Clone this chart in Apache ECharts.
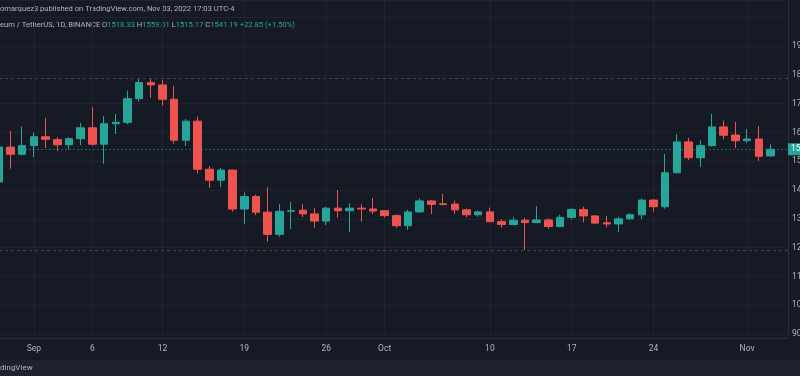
<!DOCTYPE html>
<html>
<head>
<meta charset="utf-8">
<title>ETH / USDT 1D</title>
<script src="https://cdn.jsdelivr.net/npm/echarts@6/dist/echarts.min.js"></script>
<style>
  html, body { margin: 0; padding: 0; background: #161a25; }
  #chart { width: 800px; height: 376px; }
</style>
</head>
<body>
<div id="chart"></div>
<script>
// daily candles, Aug 29 - Nov 3 2022
var dates = [
  '2022-08-29', '2022-08-30', '2022-08-31',
  '2022-09-01', '2022-09-02', '2022-09-03', '2022-09-04', '2022-09-05', '2022-09-06', '2022-09-07',
  '2022-09-08', '2022-09-09', '2022-09-10', '2022-09-11', '2022-09-12', '2022-09-13', '2022-09-14',
  '2022-09-15', '2022-09-16', '2022-09-17', '2022-09-18', '2022-09-19', '2022-09-20', '2022-09-21',
  '2022-09-22', '2022-09-23', '2022-09-24', '2022-09-25', '2022-09-26', '2022-09-27', '2022-09-28',
  '2022-09-29', '2022-09-30',
  '2022-10-01', '2022-10-02', '2022-10-03', '2022-10-04', '2022-10-05', '2022-10-06', '2022-10-07',
  '2022-10-08', '2022-10-09', '2022-10-10', '2022-10-11', '2022-10-12', '2022-10-13', '2022-10-14',
  '2022-10-15', '2022-10-16', '2022-10-17', '2022-10-18', '2022-10-19', '2022-10-20', '2022-10-21',
  '2022-10-22', '2022-10-23', '2022-10-24', '2022-10-25', '2022-10-26', '2022-10-27', '2022-10-28',
  '2022-10-29', '2022-10-30', '2022-10-31',
  '2022-11-01', '2022-11-02', '2022-11-03'
];
var emptyDates = ['2022-11-04'];

var opens = [
  1428, 1549, 1524,
  1554, 1585, 1575, 1557, 1578, 1616, 1559, 1630, 1635, 1717, 1773, 1765, 1715, 1573, 1639,
  1472, 1434, 1469, 1334, 1377, 1323, 1246, 1326, 1330, 1317, 1292, 1337, 1328, 1337, 1334,
  1328, 1311, 1276, 1324, 1362, 1352, 1351, 1331, 1314, 1324, 1291, 1280, 1295, 1287, 1296,
  1273, 1305, 1332, 1310, 1286, 1282, 1300, 1314, 1365, 1342, 1460, 1567, 1512, 1554, 1619, 1591,
  1571, 1577, 1518.33
];
var closes = [
  1549, 1524, 1554,
  1585, 1576, 1557, 1578, 1616, 1559, 1630, 1635, 1717, 1773, 1765, 1715, 1573, 1639, 1472,
  1434, 1469, 1334, 1377, 1323, 1246, 1326, 1328, 1317, 1292, 1337, 1328, 1337, 1334, 1327,
  1311, 1276, 1324, 1362, 1350, 1350, 1331, 1314, 1324, 1290, 1280, 1295, 1287, 1296, 1273,
  1305, 1332, 1310, 1285, 1282, 1300, 1314, 1365, 1342, 1460, 1567, 1512, 1554, 1619, 1590, 1571,
  1577, 1517, 1541.19
];
var lows = [
  1424, 1474, 1520,
  1514, 1546, 1535, 1541, 1556, 1554, 1491, 1594, 1629, 1707, 1720, 1693, 1561, 1553, 1457,
  1408, 1410, 1325, 1282, 1313, 1220, 1238, 1264, 1306, 1269, 1278, 1304, 1253, 1290, 1316,
  1304, 1268, 1262, 1320, 1317, 1346, 1317, 1305, 1307, 1288, 1269, 1277, 1192, 1285, 1266,
  1271, 1298, 1288, 1283, 1270, 1254, 1296, 1299, 1325, 1335, 1457, 1504, 1481, 1550, 1576, 1545,
  1564, 1501, 1515.17
];
var highs = [
  1556, 1605, 1620,
  1600, 1650, 1583, 1583, 1633, 1687, 1657, 1664, 1745, 1788, 1788, 1782, 1761, 1647, 1655,
  1483, 1476, 1470, 1392, 1384, 1410, 1351, 1359, 1351, 1337, 1341, 1400, 1355, 1351, 1372,
  1330, 1315, 1331, 1371, 1365, 1387, 1363, 1335, 1328, 1339, 1298, 1307, 1303, 1344, 1302,
  1314, 1337, 1342, 1313, 1310, 1307, 1319, 1371, 1369, 1525, 1594, 1581, 1574, 1664, 1641, 1636,
  1612, 1622, 1559.01
];

// price lines across the pane
var rangeHigh = 1789;
var rangeLow = 1192;
var lastPrice = 1541.19;

var tickDates = ['2022-09-01', '2022-09-06', '2022-09-12', '2022-09-19', '2022-09-26',
                 '2022-10-01', '2022-10-10', '2022-10-17', '2022-10-24', '2022-11-01'];
var monthNames = ['Jan', 'Feb', 'Mar', 'Apr', 'May', 'Jun', 'Jul', 'Aug', 'Sep', 'Oct', 'Nov', 'Dec'];

var UP = '#26a69a', DOWN = '#ef5350', TXT = '#b2b5be';
var FONT = "'Roboto', sans-serif";

function dayLabel(v) {
  var p = v.split('-');
  if (p[2] === '01') return monthNames[+p[1] - 1];
  return String(+p[2]);
}
function isTick(i, v) { return tickDates.indexOf(v) >= 0; }

var candles = dates.map(function (d, i) {
  return [opens[i], closes[i], lows[i], highs[i]];
});

var chart = echarts.init(document.getElementById('chart'), null, { renderer: 'canvas' });

chart.setOption({
  backgroundColor: '#161a25',
  animation: false,
  grid: { left: -7, right: 12, top: 0, bottom: 42, containLabel: false, outerBoundsMode: 'none' },
  xAxis: {
    type: 'category',
    data: dates.concat(emptyDates),
    boundaryGap: true,
    offset: 4,
    axisLine: { show: true, lineStyle: { color: '#2a2e39' } },
    axisTick: { show: false, alignWithLabel: true, interval: isTick },
    axisLabel: {
      interval: isTick, formatter: dayLabel, color: TXT,
      fontSize: 8.5, fontFamily: FONT, margin: 6
    },
    splitLine: { show: true, alignWithLabel: true, interval: isTick, lineStyle: { color: '#1f2330' } }
  },
  yAxis: {
    type: 'value',
    position: 'right',
    min: 900,
    max: 2059.7,
    interval: 100,
    axisLine: { show: true, lineStyle: { color: '#2a2e39' } },
    axisTick: { show: false },
    axisLabel: {
      color: TXT, fontSize: 8.5, fontFamily: FONT, margin: 4,
      formatter: function (v) { return v > 1900 ? '' : v.toFixed(2); }
    },
    splitLine: { lineStyle: { color: '#1f2330' } }
  },
  series: [{
    type: 'candlestick',
    data: candles,
    barWidth: 8,
    itemStyle: {
      color: UP, color0: DOWN,
      borderColor: UP, borderColor0: DOWN,
      borderWidth: 1
    },
    markLine: {
      silent: true,
      symbol: 'none',
      label: { show: false },
      data: [
        { yAxis: rangeHigh, lineStyle: { color: '#434651', type: [3, 3], width: 1 } },
        { yAxis: rangeLow, lineStyle: { color: '#434651', type: [3, 3], width: 1 } },
        {
          yAxis: lastPrice,
          lineStyle: { color: 'rgba(38,166,154,0.55)', type: [2, 2], width: 1 },
          label: {
            show: true, position: 'end', distance: 0,
            formatter: lastPrice.toFixed(2),
            color: '#fff', backgroundColor: UP,
            fontSize: 8.5, fontFamily: FONT, padding: [2, 3, 1, 3]
          }
        }
      ]
    }
  }],
  graphic: [
    {
      type: 'text', left: 0, top: 5,
      style: {
        text: 'omarquez3 published on TradingView.com, Nov 03, 2022 17:03 UTC-4',
        fill: TXT, fontSize: 7.6, fontFamily: FONT
      }
    },
    {
      type: 'text', left: 0, top: 21,
      style: {
        text: '{n|eum / TetherUS, 1D, BINANCE} {n|O}{g|1518.33} {n|H}{g|1559.01} {n|L}{g|1515.17} {n|C}{g|1541.19} {g|+22.85 (+1.50%)}',
        fontSize: 7.6, fontFamily: FONT,
        rich: {
          n: { fill: TXT, fontSize: 7.6, fontFamily: FONT },
          g: { fill: UP, fontSize: 7.6, fontFamily: FONT }
        }
      }
    },
    {
      type: 'rect', left: 0, top: 360,
      shape: { width: 800, height: 16 },
      style: { fill: '#1e222d' }
    },
    {
      type: 'text', left: 0, top: 364,
      style: { text: 'dingView', fill: TXT, fontSize: 8, fontFamily: FONT }
    }
  ]
});
</script>
</body>
</html>
